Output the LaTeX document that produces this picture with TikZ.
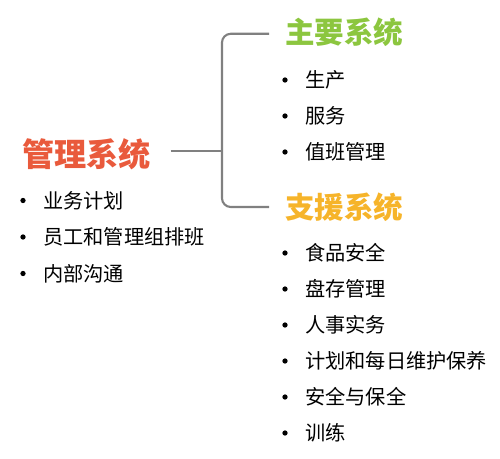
\documentclass[tikz,border=0pt]{standalone}
\usepackage{fontspec}
\newfontfamily\cjk{Noto Sans CJK SC}
\definecolor{mgmtred}{HTML}{E95A3C}
\definecolor{coregreen}{HTML}{8CC63F}
\definecolor{supyellow}{HTML}{F6B42A}
\definecolor{linegray}{HTML}{808080}
\usetikzlibrary{positioning}

\begin{document}
\begin{tikzpicture}[
  x=0.02cm, y=-0.02cm,
  title/.style={anchor=west, inner sep=0pt, font=\cjk\bfseries\fontsize{16.8}{16.8}\selectfont},
  item/.style={anchor=west, inner sep=0pt, font=\cjk\fontsize{11.5}{12}\selectfont},
  dot/.style={circle, fill=black, inner sep=0pt, minimum size=3pt},
  link/.style={draw=linegray, line width=1.2pt, rounded corners=5pt},
]
\useasboundingbox (0,0) rectangle (500,458);

% titles
\node[title, text=mgmtred, font=\cjk\bfseries\fontsize{18.3}{18.3}\selectfont] (mgmt) at (22,154) {管理系统};
\node[title, text=coregreen] (core) at (285,32) {主要系统};
\node[title, text=supyellow] (support) at (285,207) {支援系统};

% items
\foreach \txt [count=\i] in {业务计划,员工和管理组排班,内部沟通} {
  \node[dot] (mb\i) at (23,164+36.5*\i) {};
  \node[item] (m\i) at (43,164+36.5*\i) {\txt};
}
\foreach \txt [count=\i] in {生产,服务,值班管理} {
  \node[dot] (cb\i) at (285,44+36*\i) {};
  \node[item] (c\i) at (305,44+36*\i) {\txt};
}
\foreach \txt [count=\i] in {食品安全,盘存管理,人事实务,计划和每日维护保养,安全与保全,训练} {
  \node[dot] (sb\i) at (285,217+36*\i) {};
  \node[item] (s\i) at (305,217+36*\i) {\txt};
}

% bracket
\coordinate (fork) at (222,151);
\draw[link] ([xshift=11pt]mgmt.east |- fork) -- (fork);
\draw[link] ([xshift=-9pt,yshift=-1pt]core.west) -| (fork) |- ([xshift=-9pt]support.west);
\end{tikzpicture}
\end{document}
